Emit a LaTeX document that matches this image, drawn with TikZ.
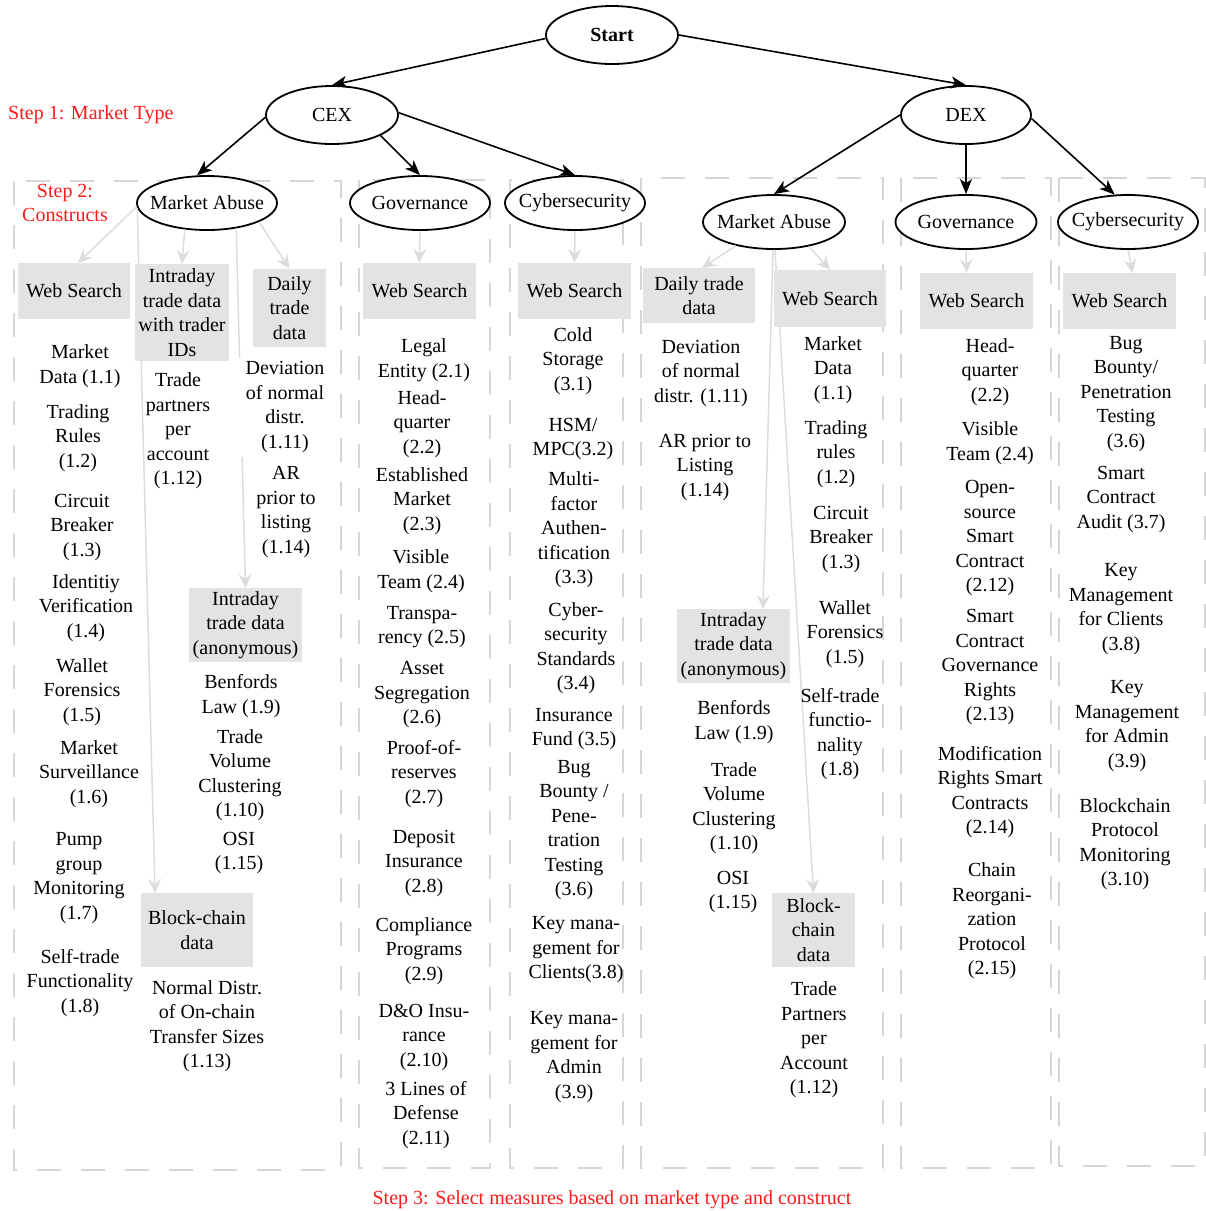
\documentclass[tikz,border=0pt]{standalone}
\usepackage{fontspec}
\setmainfont{Liberation Serif}
\usetikzlibrary{arrows.meta,shapes.geometric}
\definecolor{boxgray}{HTML}{E3E3E3}
\definecolor{linegray}{HTML}{DCDCDC}
\definecolor{dashgray}{HTML}{D6D6D6}
\definecolor{stepred}{HTML}{FF1A1A}
\begin{document}
\begin{tikzpicture}[x=1pt,y=-1pt,
  every node/.style={font=\fontsize{20}{24.5}\selectfont},
  ell/.style={draw=black, line width=1.8pt, ellipse, fill=white, inner sep=0pt},
  txt/.style={align=center, inner sep=0pt, yshift=-2pt},
  gbox/.style={fill=boxgray, align=center, inner sep=0pt},
  steplbl/.style={text=stepred, align=center, inner sep=0pt},
  blk/.style={draw=black, line width=1.6pt, -{Stealth[length=15pt,width=12pt,inset=4pt]}},
  gar/.style={draw=linegray, line width=1.5pt, -{Stealth[length=14pt,width=13pt,inset=5pt]}},
  dbox/.style={draw=dashgray, line width=2pt, dash pattern=on 24pt off 20pt}
]
\useasboundingbox (0,0) rectangle (1206,1211);

% dashed column frames
\draw[dbox] (14,181) rectangle (341,1170);
\draw[dbox] (359,180) rectangle (490,1168);
\draw[dbox] (510,180) rectangle (623,1168);
\draw[dbox] (641,178) rectangle (883,1168);
\draw[dbox] (901,178) rectangle (1051,1168);
\draw[dbox] (1059,178) rectangle (1205,1166);

% ellipses
\node[ell, minimum width=132pt, minimum height=58pt] (start) at (612,35) {\makebox[0pt]{\bfseries Start}};
\node[ell, minimum width=132pt, minimum height=58pt] (cex) at (332,115) {\makebox[0pt]{CEX}};
\node[ell, minimum width=130pt, minimum height=58pt] (dex) at (966,115) {\makebox[0pt]{DEX}};
\node[ell, minimum width=140pt, minimum height=54pt] (cma) at (207,203) {\makebox[0pt]{Market Abuse}};
\node[ell, minimum width=140pt, minimum height=54pt] (cgov) at (420,203) {\makebox[0pt]{Governance}};
\node[ell, minimum width=140pt, minimum height=54pt] (ccyb) at (575,203) {\makebox[0pt]{Cybersecurity}};
\node[ell, minimum width=142pt, minimum height=54pt] (dma) at (774,222) {\makebox[0pt]{Market Abuse}};
\node[ell, minimum width=141pt, minimum height=54pt] (dgov) at (966,222) {\makebox[0pt]{Governance}};
\node[ell, minimum width=140pt, minimum height=54pt] (dcyb) at (1128,222) {\makebox[0pt]{Cybersecurity}};

% black arrows
\draw[blk] (start.183) -- (cex.north);
\draw[blk] (start.east) -- (dex.north);
\draw[blk] (cex.182) -- (cma.110);
\draw[blk] (cex.337) -- (cgov.north);
\draw[blk] (cex.2) -- (ccyb.north);
\draw[blk] (dex.west) -- (dma.north);
\draw[blk] (dex.south) -- (dgov.north);
\draw[blk] (dex.357) -- (dcyb.116);

% long gray connector lines (drawn before boxes and texts)
\draw[gar] (cma.184) -- (155,893) coordinate (cbcT);
\draw[gar] (cma.319) -- (245.5,588) coordinate (canonT);
\draw[gar] (dma.268) -- (763,609) coordinate (danonT);
\draw[gar] (dma.272) -- (813.5,893) coordinate (dbcT);

% gray boxes
\node[gbox, minimum width=112pt, minimum height=56pt] (cws) at (74,291) {Web Search};
\node[gbox, minimum width=94pt, minimum height=97pt] (cid) at (182,312.5) {Intraday\\trade data\\with trader\\IDs};
\node[gbox, minimum width=73pt, minimum height=78pt] (cdaily) at (289.5,308) {Daily\\trade\\data};
\node[gbox, minimum width=113pt, minimum height=74pt] (canon) at (245.5,625) {Intraday\\trade data\\(anonymous)};
\node[gbox, minimum width=112pt, minimum height=74pt] (cbc) at (197,930) {Block-chain\\data};
\node[gbox, minimum width=113pt, minimum height=56pt] (cgws) at (419.5,291) {Web Search};
\node[gbox, minimum width=113pt, minimum height=56pt] (ccws) at (574.5,291) {Web Search};
\node[gbox, minimum width=112pt, minimum height=55pt] (ddaily) at (699,295.5) {Daily trade\\data};
\node[gbox, minimum width=112pt, minimum height=57pt] (dws) at (830,298.5) {Web Search};
\node[gbox, minimum width=113pt, minimum height=74pt] (danon) at (733.5,646) {Intraday\\trade data\\(anonymous)};
\node[gbox, minimum width=83pt, minimum height=74pt] (dbc) at (813.5,930) {Block-\\chain\\data};
\node[gbox, minimum width=113pt, minimum height=56pt] (dgws) at (976.5,301) {Web Search};
\node[gbox, minimum width=113pt, minimum height=56pt] (dcws) at (1119.5,301) {Web Search};

% short gray arrows
\draw[gar] (cma.183) -- ([xshift=4pt]cws.north);
\draw[gar] (cma.230) -- (cid.north);
\draw[gar] (cma.340) -- (cdaily.north);
\draw[gar] (cgov.south) -- (cgws.north);
\draw[gar] (ccyb.south) -- (ccws.north);
\draw[gar] (dma.212) -- ([xshift=3pt]ddaily.north);
\draw[gar] (dma.325) -- (dws.north);
\draw[gar] (dgov.south) -- ([xshift=-10pt]dgws.north);
\draw[gar] (dcyb.south) -- ([xshift=13pt]dcws.north);

% CEX market abuse measures
\node[txt] (c11) at (80,364) {Market\\Data (1.1)};
\node[txt] (c12) at (78,436) {Trading\\Rules\\(1.2)};
\node[txt] (c13) at (82,525) {Circuit\\Breaker\\(1.3)};
\node[txt] (c14) at (86,606) {Identitiy\\Verification\\(1.4)};
\node[txt] (c15) at (82,690) {Wallet\\Forensics\\(1.5)};
\node[txt] (c16) at (89,772) {Market\\Surveillance\\(1.6)};
\node[txt] (c17) at (79,876) {Pump\\group\\Monitoring\\(1.7)};
\node[txt] (c18) at (80,981) {Self-trade\\Functionality\\(1.8)};
\node[txt] (c112) at (178,429) {Trade\\partners\\per\\account\\(1.12)};
\node[txt, fill=white, minimum width=100pt, inner ysep=4pt] (c111) at (285,405) {Deviation\\of normal\\distr.\\(1.11)};
\node[txt] (c114) at (286,510) {AR\\prior to\\listing\\(1.14)};
\node[txt] (c19) at (241,694) {Benfords\\Law (1.9)};
\node[txt] (c110) at (240,773) {Trade\\Volume\\Clustering\\(1.10)};
\node[txt] (c115) at (239,851) {OSI\\(1.15)};
\node[txt] (c113) at (207,1024) {Normal Distr.\\of On-chain\\Transfer Sizes\\(1.13)};

% CEX governance measures
\node[txt] (c21) at (424,358) {Legal\\Entity (2.1)};
\node[txt] (c22) at (422,422) {Head-\\quarter\\(2.2)};
\node[txt] (c23) at (422,499) {Established\\Market\\(2.3)};
\node[txt] (c24) at (421,569) {Visible\\Team (2.4)};
\node[txt] (c25) at (422,625) {Transpa-\\rency (2.5)};
\node[txt] (c26) at (422,693) {Asset\\Segregation\\(2.6)};
\node[txt] (c27) at (424,772) {Proof-of-\\reserves\\(2.7)};
\node[txt] (c28) at (424,861) {Deposit\\Insurance\\(2.8)};
\node[txt] (c29) at (424,949) {Compliance\\Programs\\(2.9)};
\node[txt] (c210) at (424,1035) {D\&O Insu-\\rance\\(2.10)};
\node[txt] (c211) at (426,1113) {3 Lines of\\Defense\\(2.11)};

% CEX cybersecurity measures
\node[txt] (c31) at (573,359) {Cold\\Storage\\(3.1)};
\node[txt] (c32) at (573,437) {HSM/\\MPC(3.2)};
\node[txt] (c33) at (574,528) {Multi-\\factor\\Authen-\\tification\\(3.3)};
\node[txt] (c34) at (576,646) {Cyber-\\security\\Standards\\(3.4)};
\node[txt] (c35) at (574,727) {Insurance\\Fund (3.5)};
\node[txt] (c36) at (574,828) {Bug\\Bounty /\\Pene-\\tration\\Testing\\(3.6)};
\node[txt] (c38) at (576,948) {Key mana-\\gement for\\Clients(3.8)};
\node[txt] (c39) at (574,1055) {Key mana-\\gement for\\Admin\\(3.9)};

% DEX market abuse measures
\node[txt] (d111) at (701,371) {Deviation\\of normal\\distr. (1.11)};
\node[txt] (d114) at (705,465) {AR prior to\\Listing\\(1.14)};
\node[txt] (d11) at (833,368) {Market\\Data\\(1.1)};
\node[txt] (d12) at (836,452) {Trading\\rules\\(1.2)};
\node[txt] (d13) at (841,537) {Circuit\\Breaker\\(1.3)};
\node[txt] (d15) at (845,632) {Wallet\\Forensics\\(1.5)};
\node[txt] (d18) at (840,732) {Self-trade\\functio-\\nality\\(1.8)};
\node[txt] (d19) at (734,720) {Benfords\\Law (1.9)};
\node[txt] (d110) at (734,806) {Trade\\Volume\\Clustering\\(1.10)};
\node[txt] (d115) at (733,890) {OSI\\(1.15)};
\node[txt] (d112) at (814,1038) {Trade\\Partners\\per\\Account\\(1.12)};

% DEX governance measures
\node[txt] (d22) at (990,370) {Head-\\quarter\\(2.2)};
\node[txt] (d24) at (990,441) {Visible\\Team (2.4)};
\node[txt] (d212) at (990,536) {Open-\\source\\Smart\\Contract\\(2.12)};
\node[txt] (d213) at (990,665) {Smart\\Contract\\Governance\\Rights\\(2.13)};
\node[txt] (d214) at (990,790) {Modification\\Rights Smart\\Contracts\\(2.14)};
\node[txt] (d215) at (992,919) {Chain\\Reorgani-\\zation\\Protocol\\(2.15)};

% DEX cybersecurity measures
\node[txt] (d36) at (1126,392) {Bug\\Bounty/\\Penetration\\Testing\\(3.6)};
\node[txt] (d37) at (1121,497) {Smart\\Contract\\Audit (3.7)};
\node[txt] (d38) at (1121,607) {Key\\Management\\for Clients\\(3.8)};
\node[txt] (d39) at (1127,724) {Key\\Management\\for Admin\\(3.9)};
\node[txt] (d310) at (1125,842) {Blockchain\\Protocol\\Monitoring\\(3.10)};

% step labels
\node[steplbl, anchor=west] (s1) at (8,115) {Step 1: Market Type};
\node[steplbl] (s2) at (65,203) {Step 2:\\Constructs};
\node[steplbl] (s3) at (612,1200) {Step 3: Select measures based on market type and construct};
\end{tikzpicture}
\end{document}
